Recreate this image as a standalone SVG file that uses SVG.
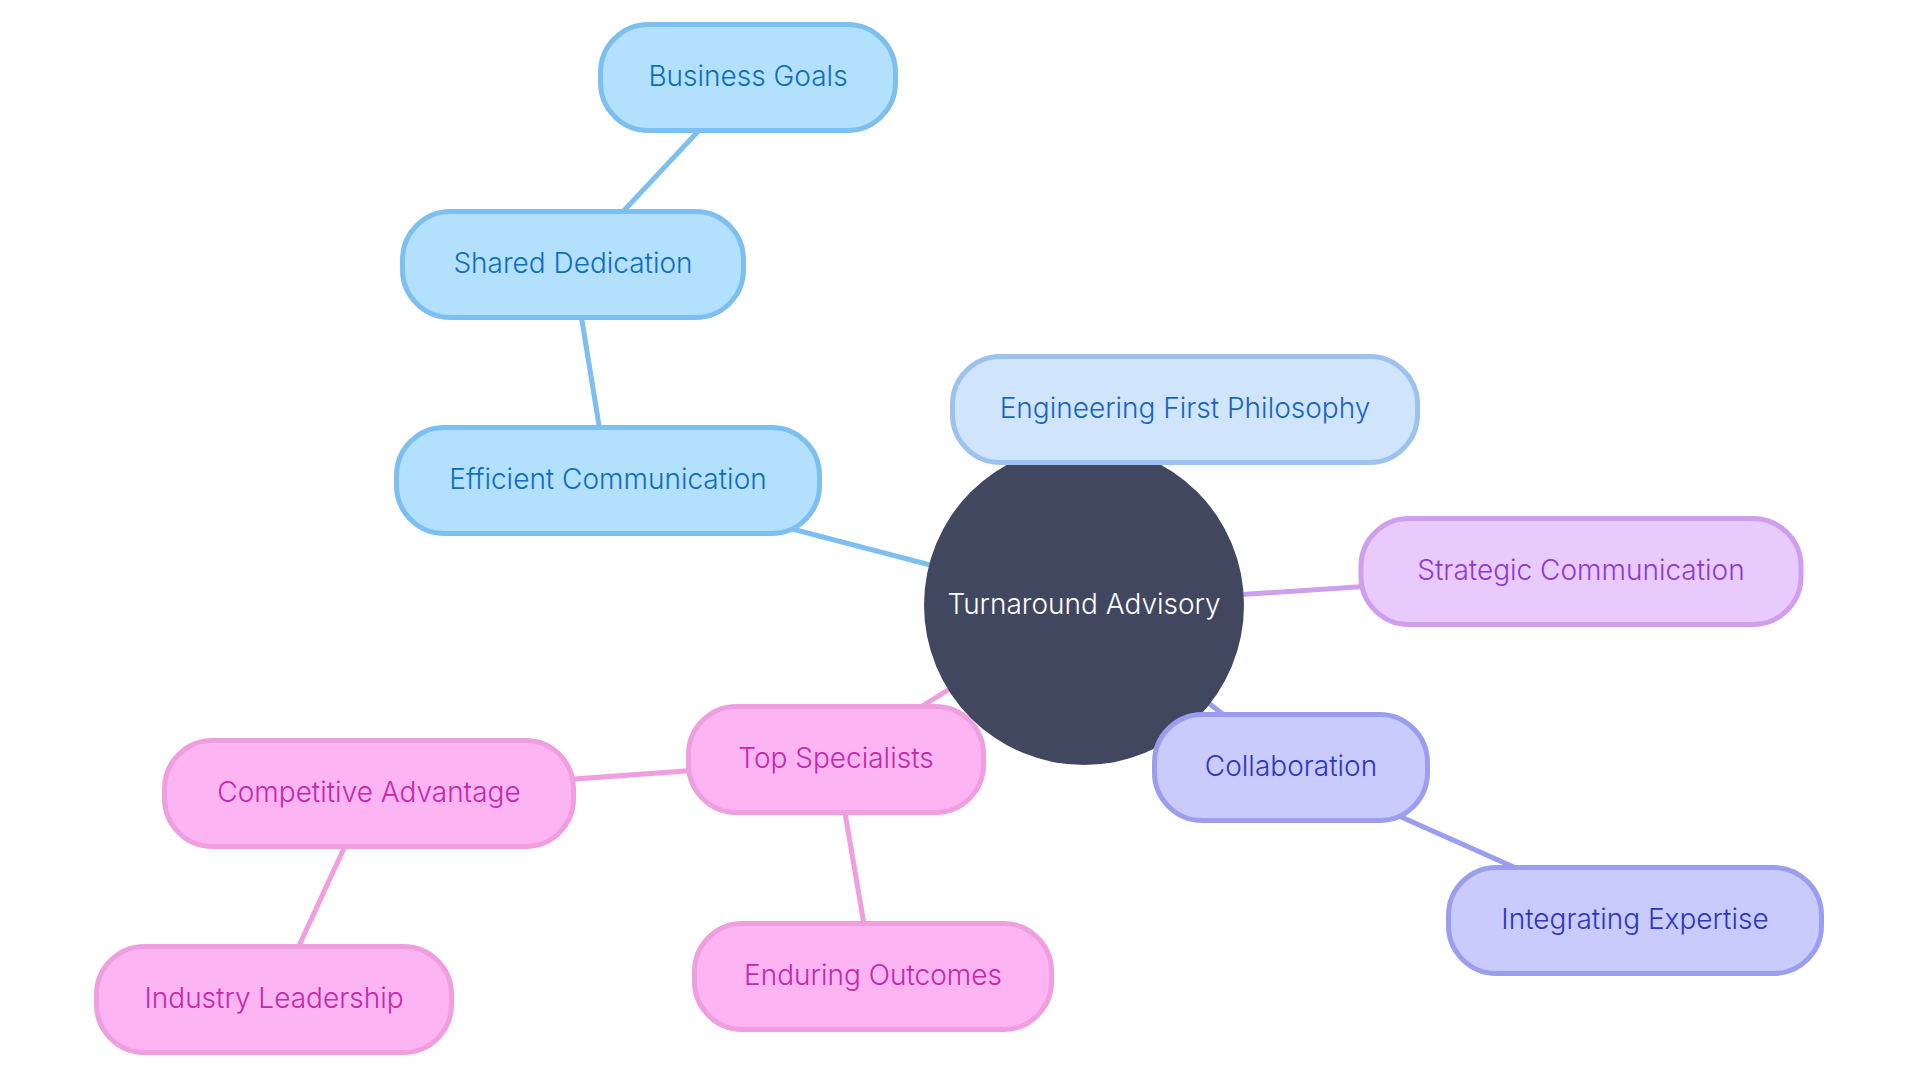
<svg xmlns="http://www.w3.org/2000/svg" width="1920" height="1080" viewBox="0 0 1920 1080">
<style>
text{font-family:Inter,"Noto Sans",sans-serif;font-size:28px;font-weight:300;text-anchor:middle}
.e{fill:none;stroke-width:5;stroke-linecap:round}
.n rect{stroke-width:5}
.b rect{fill:#b3e0fd;stroke:#7dbff0}.b text{fill:#0d6ebd}
.eb{stroke:#7dbff0}
.g rect{fill:#d0e4fc;stroke:#9cc2ee}.g text{fill:#1765c1}
.eg{stroke:#9cc2ee}
.p rect{fill:#e9cafc;stroke:#d09eee}.p text{fill:#8e3ad0}
.ep{stroke:#d09eee}
.v rect{fill:#c9cbfd;stroke:#9b9eee}.v text{fill:#2e36c0}
.ev{stroke:#9b9eee}
.k rect{fill:#fdb4f3;stroke:#f09ee0}.k text{fill:#c528a8}
.ek{stroke:#f09ee0}
</style>
<rect width="1920" height="1080" fill="#ffffff"/>
<g id="connectors">
<line class="e eb" x1="748" y1="78" x2="573" y2="265"/>
<line class="e eb" x1="573" y1="265" x2="608" y2="481"/>
<line class="e eb" x1="608" y1="481" x2="1084" y2="605"/>
<line class="e eg" x1="1084" y1="605" x2="1185" y2="410"/>
<line class="e ep" x1="1084" y1="605" x2="1581" y2="572"/>
<line class="e ev" x1="1084" y1="605" x2="1291" y2="768"/>
<line class="e ev" x1="1291" y1="768" x2="1635" y2="921"/>
<line class="e ek" x1="1084" y1="605" x2="836" y2="760"/>
<line class="e ek" x1="836" y1="760" x2="369" y2="794"/>
<line class="e ek" x1="369" y1="794" x2="274" y2="1000"/>
<line class="e ek" x1="836" y1="760" x2="873" y2="977"/>
</g>
<g id="root">
<circle cx="1084" cy="605" r="160" fill="#424760"/>
<text x="1084" y="614" fill="#ffffff">Turnaround Advisory</text>
</g>
<g id="business-goals" class="n b">
<rect x="600.5" y="24.5" width="295" height="106" rx="48"/>
<text x="748" y="86">Business Goals</text>
</g>
<g id="shared-dedication" class="n b">
<rect x="402.5" y="211.5" width="341" height="106" rx="48"/>
<text x="573" y="273">Shared Dedication</text>
</g>
<g id="efficient-communication" class="n b">
<rect x="396.5" y="427.5" width="423" height="106" rx="48"/>
<text x="608" y="489">Efficient Communication</text>
</g>
<g id="engineering-first-philosophy" class="n g">
<rect x="952.5" y="356.5" width="465" height="106" rx="48"/>
<text x="1185" y="418">Engineering First Philosophy</text>
</g>
<g id="strategic-communication" class="n p">
<rect x="1361" y="518.5" width="440" height="106" rx="48"/>
<text x="1581" y="580">Strategic Communication</text>
</g>
<g id="collaboration" class="n v">
<rect x="1154.5" y="714.5" width="273" height="106" rx="48"/>
<text x="1291" y="776">Collaboration</text>
</g>
<g id="integrating-expertise" class="n v">
<rect x="1448.5" y="867.5" width="373" height="106" rx="48"/>
<text x="1635" y="929">Integrating Expertise</text>
</g>
<g id="top-specialists" class="n k">
<rect x="688.5" y="706.5" width="295" height="106" rx="48"/>
<text x="836" y="768">Top Specialists</text>
</g>
<g id="competitive-advantage" class="n k">
<rect x="164.5" y="740.5" width="409" height="106" rx="48"/>
<text x="369" y="802">Competitive Advantage</text>
</g>
<g id="industry-leadership" class="n k">
<rect x="96.5" y="946.5" width="355" height="106" rx="48"/>
<text x="274" y="1008">Industry Leadership</text>
</g>
<g id="enduring-outcomes" class="n k">
<rect x="694.5" y="923.5" width="357" height="106" rx="48"/>
<text x="873" y="985">Enduring Outcomes</text>
</g>
</svg>
